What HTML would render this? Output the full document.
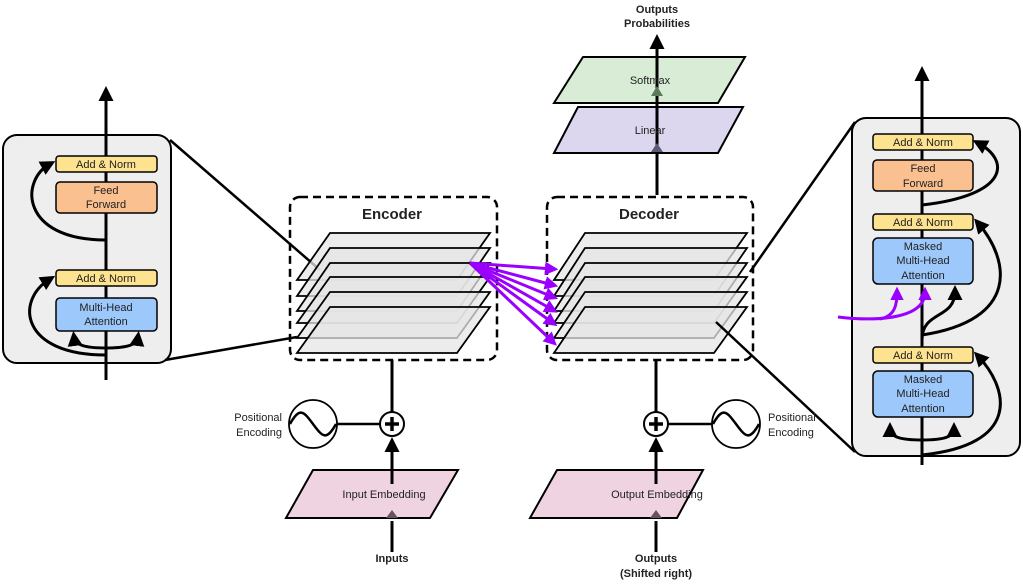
<!DOCTYPE html>
<html><head><meta charset="utf-8"><style>
html,body{margin:0;padding:0;background:#fff;width:1023px;height:585px;overflow:hidden}
svg{display:block}
text{font-family:"Liberation Sans",sans-serif;fill:#222}
</style></head><body>
<svg width="1023" height="585" viewBox="0 0 1023 585" xmlns="http://www.w3.org/2000/svg">
<defs>
<marker id="ah" viewBox="0 0 10 10" refX="6" refY="5" markerWidth="5" markerHeight="5" orient="auto-start-reverse"><path d="M0,0 L10,5 L0,10 z" fill="#000"/></marker>
<marker id="ap" viewBox="0 0 10 10" refX="6" refY="5" markerWidth="4.5" markerHeight="4.5" orient="auto"><path d="M0,0 L10,5 L0,10 z" fill="#9b00ff"/></marker>
</defs>

<!-- top outputs -->
<text x="657" y="13" font-size="11" font-weight="bold" text-anchor="middle">Outputs</text>
<text x="657" y="27" font-size="11" font-weight="bold" text-anchor="middle">Probabilities</text>
<polygon points="583,57 745,57 718,103 554,103" fill="#d9ecd6" stroke="#000" stroke-width="2"/>
<polygon points="578,107 743,107 718,153 554,153" fill="#dcd6ee" stroke="#000" stroke-width="2"/>
<line x1="657" y1="195" x2="657" y2="40" stroke="#000" stroke-width="3" marker-end="url(#ah)"/>
<polygon points="651,96 657,86 663,96" fill="#5a7a5a"/>
<polygon points="651,152 657,143 663,152" fill="#5a5a7a"/>
<text x="650" y="84" font-size="11" text-anchor="middle">Softmax</text>
<text x="650" y="134" font-size="11" text-anchor="middle">Linear</text>

<!-- left panel -->
<rect x="3" y="135" width="168" height="228" rx="14" fill="#eeeeee" stroke="#000" stroke-width="2"/>
<line x1="170" y1="140" x2="320" y2="270" stroke="#000" stroke-width="2.5"/>
<line x1="165" y1="360" x2="297" y2="337" stroke="#000" stroke-width="2.5"/>
<line x1="106" y1="380" x2="106" y2="92" stroke="#000" stroke-width="3" marker-end="url(#ah)"/>
<path d="M106,240 C20,240 20,180 50,164" fill="none" stroke="#000" stroke-width="3" marker-end="url(#ah)"/>
<path d="M106,355 C20,355 15,300 50,279" fill="none" stroke="#000" stroke-width="3" marker-end="url(#ah)"/>
<path d="M106,348 C85,348 75,345 74,337" fill="none" stroke="#000" stroke-width="3" marker-end="url(#ah)"/>
<path d="M106,348 C127,348 137,345 138,337" fill="none" stroke="#000" stroke-width="3" marker-end="url(#ah)"/>
<rect x="56" y="156" width="101" height="16" rx="3" fill="#fde28f" stroke="#000" stroke-width="1.5"/>
<text x="106" y="168" font-size="11" text-anchor="middle">Add &amp; Norm</text>
<rect x="56" y="182" width="101" height="31" rx="4" fill="#fbc08f" stroke="#000" stroke-width="1.5"/>
<text x="106" y="194" font-size="11" text-anchor="middle">Feed</text>
<text x="106" y="208" font-size="11" text-anchor="middle">Forward</text>
<rect x="56" y="270" width="101" height="16" rx="3" fill="#fde28f" stroke="#000" stroke-width="1.5"/>
<text x="106" y="282" font-size="11" text-anchor="middle">Add &amp; Norm</text>
<rect x="56" y="298" width="101" height="33" rx="4" fill="#9cc8fb" stroke="#000" stroke-width="1.5"/>
<text x="106" y="311" font-size="11" text-anchor="middle">Multi-Head</text>
<text x="106" y="325" font-size="11" text-anchor="middle">Attention</text>

<!-- encoder -->
<rect x="290" y="197" width="207" height="163" rx="10" fill="none" stroke="#000" stroke-width="2.5" stroke-dasharray="8,5"/>
<text x="392" y="219" font-size="15" font-weight="bold" text-anchor="middle">Encoder</text>
<g fill="#e6e6e6" fill-opacity="0.75" stroke="#000" stroke-width="1.8">
<polygon points="330,233 490,233 457,280 297,280"/>
<polygon points="330,248 490,248 457,296 297,296"/>
<polygon points="330,263 490,263 457,311 297,311"/>
<polygon points="330,277 490,277 457,323 297,323"/>
<polygon points="330,292 490,292 457,338 297,338"/>
<polygon points="330,307 490,307 457,353 297,353"/>
</g>
<line x1="392" y1="360" x2="392" y2="412" stroke="#000" stroke-width="3"/>

<!-- decoder -->
<rect x="547" y="197" width="206" height="163" rx="10" fill="none" stroke="#000" stroke-width="2.5" stroke-dasharray="8,5"/>
<text x="649" y="219" font-size="15" font-weight="bold" text-anchor="middle">Decoder</text>
<g fill="#e6e6e6" fill-opacity="0.75" stroke="#000" stroke-width="1.8">
<polygon points="585,233 747,233 714,280 554,280"/>
<polygon points="585,248 747,248 714,296 554,296"/>
<polygon points="585,263 747,263 714,311 554,311"/>
<polygon points="585,277 747,277 714,323 554,323"/>
<polygon points="585,292 747,292 714,338 554,338"/>
<polygon points="585,307 747,307 714,353 554,353"/>
</g>
<line x1="656" y1="360" x2="656" y2="412" stroke="#000" stroke-width="3"/>

<!-- purple -->
<g stroke="#9b00ff" stroke-width="3" fill="none">
<line x1="470" y1="263" x2="553" y2="269" marker-end="url(#ap)"/>
<line x1="470" y1="263" x2="553" y2="285" marker-end="url(#ap)"/>
<line x1="470" y1="263" x2="553" y2="297" marker-end="url(#ap)"/>
<line x1="470" y1="263" x2="553" y2="310" marker-end="url(#ap)"/>
<line x1="470" y1="263" x2="553" y2="323" marker-end="url(#ap)"/>
<line x1="470" y1="263" x2="553" y2="342" marker-end="url(#ap)"/>
</g>

<!-- right panel -->
<rect x="852" y="118" width="168" height="338" rx="14" fill="#eeeeee" stroke="#000" stroke-width="2"/>
<line x1="855" y1="122" x2="750" y2="272" stroke="#000" stroke-width="2.5"/>
<line x1="855" y1="452" x2="716" y2="322" stroke="#000" stroke-width="2.5"/>
<line x1="922" y1="465" x2="922" y2="72" stroke="#000" stroke-width="3" marker-end="url(#ah)"/>
<path d="M922,205 C1010,195 1010,160 978,143" fill="none" stroke="#000" stroke-width="3" marker-end="url(#ah)"/>
<path d="M922,335 C1020,320 1010,260 978,223" fill="none" stroke="#000" stroke-width="3" marker-end="url(#ah)"/>
<path d="M922,455 C1020,445 1010,390 978,356" fill="none" stroke="#000" stroke-width="3" marker-end="url(#ah)"/>
<path d="M922,340 C922,310 955,320 955,291" fill="none" stroke="#000" stroke-width="3" marker-end="url(#ah)"/>
<path d="M922,440 C900,440 890,437 890,428" fill="none" stroke="#000" stroke-width="3" marker-end="url(#ah)"/>
<path d="M922,440 C944,440 954,437 954,428" fill="none" stroke="#000" stroke-width="3" marker-end="url(#ah)"/>
<path d="M838,317 C880,322 925,318 925,292" fill="none" stroke="#9b00ff" stroke-width="3" marker-end="url(#ap)"/>
<path d="M880,319 C895,316 897,305 897,292" fill="none" stroke="#9b00ff" stroke-width="3" marker-end="url(#ap)"/>
<rect x="873" y="134" width="100" height="16" rx="3" fill="#fde28f" stroke="#000" stroke-width="1.5"/>
<text x="923" y="146" font-size="11" text-anchor="middle">Add &amp; Norm</text>
<rect x="873" y="160" width="100" height="31" rx="4" fill="#fbc08f" stroke="#000" stroke-width="1.5"/>
<text x="923" y="172" font-size="11" text-anchor="middle">Feed</text>
<text x="923" y="187" font-size="11" text-anchor="middle">Forward</text>
<rect x="873" y="214" width="100" height="16" rx="3" fill="#fde28f" stroke="#000" stroke-width="1.5"/>
<text x="923" y="226" font-size="11" text-anchor="middle">Add &amp; Norm</text>
<rect x="873" y="238" width="100" height="46" rx="5" fill="#9cc8fb" stroke="#000" stroke-width="1.5"/>
<text x="923" y="250" font-size="11" text-anchor="middle">Masked</text>
<text x="923" y="264" font-size="11" text-anchor="middle">Multi-Head</text>
<text x="923" y="279" font-size="11" text-anchor="middle">Attention</text>
<rect x="873" y="347" width="100" height="16" rx="3" fill="#fde28f" stroke="#000" stroke-width="1.5"/>
<text x="923" y="359" font-size="11" text-anchor="middle">Add &amp; Norm</text>
<rect x="873" y="371" width="100" height="46" rx="5" fill="#9cc8fb" stroke="#000" stroke-width="1.5"/>
<text x="923" y="383" font-size="11" text-anchor="middle">Masked</text>
<text x="923" y="397" font-size="11" text-anchor="middle">Multi-Head</text>
<text x="923" y="412" font-size="11" text-anchor="middle">Attention</text>

<!-- bottom encoder side -->
<polygon points="313,470 458,470 430,518 286,518" fill="#efd3e1" stroke="#000" stroke-width="2"/>
<text x="384" y="498" font-size="11" text-anchor="middle">Input Embedding</text>
<polygon points="386,518 392,510 398,518" fill="#6a5060"/>
<line x1="392" y1="552" x2="392" y2="521" stroke="#000" stroke-width="3"/>
<line x1="392" y1="484" x2="392" y2="443" stroke="#000" stroke-width="3" marker-end="url(#ah)"/>
<line x1="337" y1="424" x2="380" y2="424" stroke="#000" stroke-width="2.5"/>
<circle cx="392" cy="424" r="12" fill="#fff" stroke="#000" stroke-width="2"/>
<path d="M385,424 H399 M392,417 V431" stroke="#000" stroke-width="3.5"/>
<circle cx="313" cy="424" r="24" fill="#fff" stroke="#000" stroke-width="1.8"/>
<path d="M290,424 C300,406 304,412 313,424 C322,436 326,442 336,424" fill="none" stroke="#000" stroke-width="2.5"/>
<text x="282" y="421" font-size="11" text-anchor="end">Positional</text>
<text x="282" y="436" font-size="11" text-anchor="end">Encoding</text>
<text x="392" y="562" font-size="11" font-weight="bold" text-anchor="middle">Inputs</text>

<!-- bottom decoder side -->
<polygon points="557,470 703,470 677,518 530,518" fill="#efd3e1" stroke="#000" stroke-width="2"/>
<text x="657" y="498" font-size="11" text-anchor="middle">Output Embedding</text>
<polygon points="650,518 656,510 662,518" fill="#6a5060"/>
<line x1="656" y1="552" x2="656" y2="521" stroke="#000" stroke-width="3"/>
<line x1="656" y1="484" x2="656" y2="443" stroke="#000" stroke-width="3" marker-end="url(#ah)"/>
<line x1="668" y1="424" x2="712" y2="424" stroke="#000" stroke-width="2.5"/>
<circle cx="656" cy="424" r="12" fill="#fff" stroke="#000" stroke-width="2"/>
<path d="M649,424 H663 M656,417 V431" stroke="#000" stroke-width="3.5"/>
<circle cx="736" cy="424" r="24" fill="#fff" stroke="#000" stroke-width="1.8"/>
<path d="M713,424 C723,406 727,412 736,424 C745,436 749,442 759,424" fill="none" stroke="#000" stroke-width="2.5"/>
<text x="768" y="421" font-size="11">Positional</text>
<text x="768" y="436" font-size="11">Encoding</text>
<text x="656" y="562" font-size="11" font-weight="bold" text-anchor="middle">Outputs</text>
<text x="656" y="577" font-size="11" font-weight="bold" text-anchor="middle">(Shifted right)</text>
</svg>
</body></html>
